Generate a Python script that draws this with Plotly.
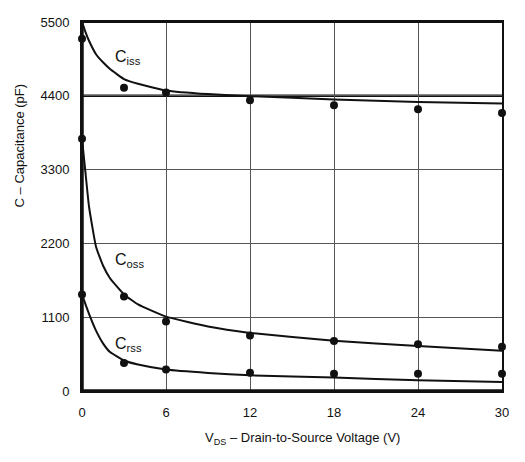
import plotly.graph_objects as go

# Measured points
vds_pts = [0, 3, 6, 12, 18, 24, 30]
ciss_pts = [5250, 4520, 4450, 4335, 4260, 4200, 4145]
coss_pts = [3760, 1410, 1036, 827, 744, 696, 661]
crss_pts = [1440, 419, 321, 272, 258, 258, 258]

# Typical curves
vds_curve = [0, 0.25, 0.5, 1, 1.5, 2, 3, 4, 6, 9, 12, 18, 24, 30]
ciss_curve = [5500, 5350, 5220, 5020, 4900, 4800, 4650, 4580, 4480, 4425, 4395, 4345, 4308, 4285]
coss_curve = [3758, 3250, 2750, 2150, 1870, 1680, 1440, 1290, 1108, 960, 866, 750, 670, 600]
crss_curve = [1440, 1290, 1150, 900, 710, 580, 455, 395, 321, 270, 233, 200, 160, 136]

x_ticks = [0, 6, 12, 18, 24, 30]
y_ticks = [0, 1100, 2200, 3300, 4400, 5500]

FONT = "Liberation Sans, Arial, sans-serif"
INK = "#111111"

fig = go.Figure()
for yc in [ciss_curve, coss_curve, crss_curve]:
    fig.add_trace(go.Scatter(x=vds_curve, y=yc, mode="lines",
                             line=dict(color=INK, width=2, shape="spline", smoothing=0.4),
                             showlegend=False, hoverinfo="skip", cliponaxis=False))
for yp in [ciss_pts, coss_pts, crss_pts]:
    fig.add_trace(go.Scatter(x=vds_pts, y=yp, mode="markers",
                             marker=dict(color=INK, size=8),
                             showlegend=False, cliponaxis=False))

fig.add_hline(y=y_ticks[4], line=dict(color=INK, width=2.5), layer="below")
fig.add_hline(y=y_ticks[-1], line=dict(color=INK, width=2), layer="above")
fig.add_hline(y=y_ticks[0], line=dict(color=INK, width=3.5), layer="above")
fig.add_vline(x=x_ticks[0], line=dict(color=INK, width=3.5), layer="above")

fig.update_xaxes(range=[0, 30], tickvals=x_ticks, showgrid=True, gridcolor="#555555", gridwidth=1,
                 zeroline=False, showline=True, linecolor=INK, linewidth=2, mirror=True,
                 ticks="", ticklabelstandoff=8, ticklabeloverflow="allow",
                 tickfont=dict(family=FONT, size=13, color=INK))
fig.update_yaxes(range=[0, 5500], tickvals=y_ticks, showgrid=True, gridcolor="#555555", gridwidth=1,
                 zeroline=False, showline=True, linecolor=INK, linewidth=2, mirror=True,
                 ticks="", ticklabelstandoff=8, ticklabeloverflow="allow",
                 tickfont=dict(family=FONT, size=13, color=INK))

ann_font = dict(family=FONT, size=16, color=INK)
fig.add_annotation(x=2.2, y=4975, text="C<sub>iss</sub>", showarrow=False, xanchor="left", font=ann_font)
fig.add_annotation(x=2.2, y=1940, text="C<sub>oss</sub>", showarrow=False, xanchor="left", font=ann_font)
fig.add_annotation(x=2.2, y=700, text="C<sub>rss</sub>", showarrow=False, xanchor="left", font=ann_font)

fig.add_annotation(xref="paper", yref="paper", x=0.525, y=-0.13, yanchor="middle",
                   text="V<sub>DS</sub> – Drain-to-Source Voltage (V)", showarrow=False,
                   font=dict(family=FONT, size=13, color=INK))
fig.add_annotation(xref="paper", yref="paper", x=-0.148, y=0.665, xanchor="center", yanchor="middle",
                   text="C – Capacitance (pF)", textangle=-90, showarrow=False,
                   font=dict(family=FONT, size=13, color=INK))

fig.update_layout(width=525, height=462, margin=dict(l=74, r=31, t=7, b=79),
                  plot_bgcolor="white", paper_bgcolor="white")
fig.write_html("out.html")
